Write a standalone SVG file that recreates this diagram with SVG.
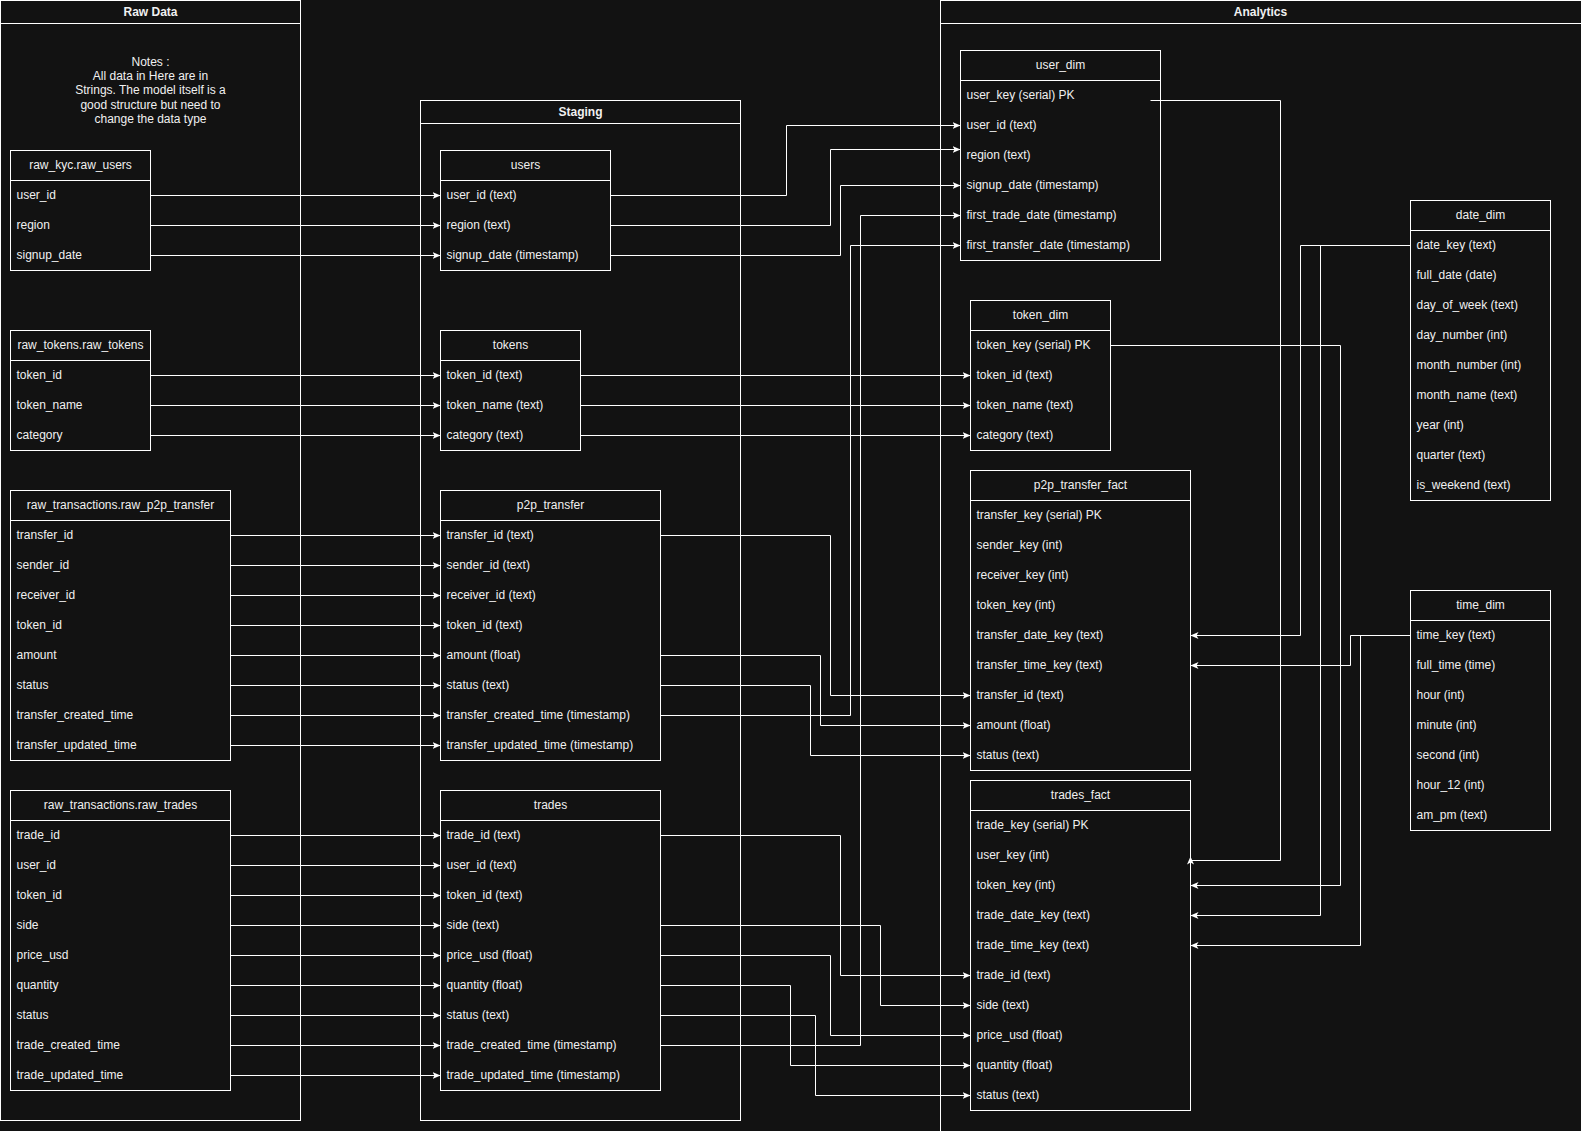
<svg xmlns="http://www.w3.org/2000/svg" width="1581" height="1131" viewBox="0 0 1581 1131">
<style>
.bg{fill:#121212}
.box{fill:#121212;stroke:#ffffff;stroke-width:1}
.cont{fill:none;stroke:#ffffff;stroke-width:1}
.sep{stroke:#ffffff;stroke-width:1}
text{font-family:"Liberation Sans",Arial,Helvetica,sans-serif;font-size:12px;fill:#f0f0f0}
.c{text-anchor:middle}
.b{font-weight:bold}
.e{fill:none;stroke:#ffffff;stroke-width:1;marker-end:url(#arr)}
</style>
<defs>
<marker id="arr" viewBox="0 0 8 7" refX="8" refY="3.5" markerWidth="8" markerHeight="7" markerUnits="userSpaceOnUse" orient="auto">
<path d="M0,0 L8,3.5 L0,7 L2,3.5 Z" fill="#ffffff"/>
</marker>
</defs>
<rect class="bg" x="0" y="0" width="1581" height="1131"/>
<g transform="translate(0.5,0.5)">

<g id="container-raw">
<rect class="cont" x="0" y="0" width="300" height="1120"/>
<line class="sep" x1="0" y1="23" x2="300" y2="23"/>
<text class="c b" x="150" y="15">Raw Data</text>
</g>
<g id="container-staging">
<rect class="cont" x="420" y="100" width="320" height="1020"/>
<line class="sep" x1="420" y1="123" x2="740" y2="123"/>
<text class="c b" x="580" y="115">Staging</text>
</g>
<g id="container-analytics">
<rect class="cont" x="940" y="0" width="645" height="1140"/>
<line class="sep" x1="940" y1="23" x2="1585" y2="23"/>
<text class="c b" x="1260" y="15">Analytics</text>
</g>

<g id="notes">
<text class="c" x="150" y="65">Notes :</text>
<text class="c" x="150" y="79">All data in Here are in</text>
<text class="c" x="150" y="93.5">Strings. The model itself is a</text>
<text class="c" x="150" y="108">good structure but need to</text>
<text class="c" x="150" y="122">change the data type</text>
</g>

<g id="raw_users">
<rect class="box" x="10" y="150" width="140" height="120"/>
<line class="sep" x1="10" y1="180" x2="150" y2="180"/>
<text class="c" x="80" y="168">raw_kyc.raw_users</text>
<text x="16" y="198">user_id</text>
<text x="16" y="228">region</text>
<text x="16" y="258">signup_date</text>
</g>

<g id="raw_tokens">
<rect class="box" x="10" y="330" width="140" height="120"/>
<line class="sep" x1="10" y1="360" x2="150" y2="360"/>
<text class="c" x="80" y="348">raw_tokens.raw_tokens</text>
<text x="16" y="378">token_id</text>
<text x="16" y="408">token_name</text>
<text x="16" y="438">category</text>
</g>

<g id="raw_p2p_transfer">
<rect class="box" x="10" y="490" width="220" height="270"/>
<line class="sep" x1="10" y1="520" x2="230" y2="520"/>
<text class="c" x="120" y="508">raw_transactions.raw_p2p_transfer</text>
<text x="16" y="538">transfer_id</text>
<text x="16" y="568">sender_id</text>
<text x="16" y="598">receiver_id</text>
<text x="16" y="628">token_id</text>
<text x="16" y="658">amount</text>
<text x="16" y="688">status</text>
<text x="16" y="718">transfer_created_time</text>
<text x="16" y="748">transfer_updated_time</text>
</g>

<g id="raw_trades">
<rect class="box" x="10" y="790" width="220" height="300"/>
<line class="sep" x1="10" y1="820" x2="230" y2="820"/>
<text class="c" x="120" y="808">raw_transactions.raw_trades</text>
<text x="16" y="838">trade_id</text>
<text x="16" y="868">user_id</text>
<text x="16" y="898">token_id</text>
<text x="16" y="928">side</text>
<text x="16" y="958">price_usd</text>
<text x="16" y="988">quantity</text>
<text x="16" y="1018">status</text>
<text x="16" y="1048">trade_created_time</text>
<text x="16" y="1078">trade_updated_time</text>
</g>

<g id="stg_users">
<rect class="box" x="440" y="150" width="170" height="120"/>
<line class="sep" x1="440" y1="180" x2="610" y2="180"/>
<text class="c" x="525" y="168">users</text>
<text x="446" y="198">user_id (text)</text>
<text x="446" y="228">region (text)</text>
<text x="446" y="258">signup_date (timestamp)</text>
</g>

<g id="stg_tokens">
<rect class="box" x="440" y="330" width="140" height="120"/>
<line class="sep" x1="440" y1="360" x2="580" y2="360"/>
<text class="c" x="510" y="348">tokens</text>
<text x="446" y="378">token_id (text)</text>
<text x="446" y="408">token_name (text)</text>
<text x="446" y="438">category (text)</text>
</g>

<g id="stg_p2p_transfer">
<rect class="box" x="440" y="490" width="220" height="270"/>
<line class="sep" x1="440" y1="520" x2="660" y2="520"/>
<text class="c" x="550" y="508">p2p_transfer</text>
<text x="446" y="538">transfer_id (text)</text>
<text x="446" y="568">sender_id (text)</text>
<text x="446" y="598">receiver_id (text)</text>
<text x="446" y="628">token_id (text)</text>
<text x="446" y="658">amount (float)</text>
<text x="446" y="688">status (text)</text>
<text x="446" y="718">transfer_created_time (timestamp)</text>
<text x="446" y="748">transfer_updated_time (timestamp)</text>
</g>

<g id="stg_trades">
<rect class="box" x="440" y="790" width="220" height="300"/>
<line class="sep" x1="440" y1="820" x2="660" y2="820"/>
<text class="c" x="550" y="808">trades</text>
<text x="446" y="838">trade_id (text)</text>
<text x="446" y="868">user_id (text)</text>
<text x="446" y="898">token_id (text)</text>
<text x="446" y="928">side (text)</text>
<text x="446" y="958">price_usd (float)</text>
<text x="446" y="988">quantity (float)</text>
<text x="446" y="1018">status (text)</text>
<text x="446" y="1048">trade_created_time (timestamp)</text>
<text x="446" y="1078">trade_updated_time (timestamp)</text>
</g>

<g id="user_dim">
<rect class="box" x="960" y="50" width="200" height="210"/>
<line class="sep" x1="960" y1="80" x2="1160" y2="80"/>
<text class="c" x="1060" y="68">user_dim</text>
<text x="966" y="98">user_key (serial) PK</text>
<text x="966" y="128">user_id (text)</text>
<text x="966" y="158">region (text)</text>
<text x="966" y="188">signup_date (timestamp)</text>
<text x="966" y="218">first_trade_date (timestamp)</text>
<text x="966" y="248">first_transfer_date (timestamp)</text>
</g>

<g id="token_dim">
<rect class="box" x="970" y="300" width="140" height="150"/>
<line class="sep" x1="970" y1="330" x2="1110" y2="330"/>
<text class="c" x="1040" y="318">token_dim</text>
<text x="976" y="348">token_key (serial) PK</text>
<text x="976" y="378">token_id (text)</text>
<text x="976" y="408">token_name (text)</text>
<text x="976" y="438">category (text)</text>
</g>

<g id="p2p_transfer_fact">
<rect class="box" x="970" y="470" width="220" height="300"/>
<line class="sep" x1="970" y1="500" x2="1190" y2="500"/>
<text class="c" x="1080" y="488">p2p_transfer_fact</text>
<text x="976" y="518">transfer_key (serial) PK</text>
<text x="976" y="548">sender_key (int)</text>
<text x="976" y="578">receiver_key (int)</text>
<text x="976" y="608">token_key (int)</text>
<text x="976" y="638">transfer_date_key (text)</text>
<text x="976" y="668">transfer_time_key (text)</text>
<text x="976" y="698">transfer_id (text)</text>
<text x="976" y="728">amount (float)</text>
<text x="976" y="758">status (text)</text>
</g>

<g id="trades_fact">
<rect class="box" x="970" y="780" width="220" height="330"/>
<line class="sep" x1="970" y1="810" x2="1190" y2="810"/>
<text class="c" x="1080" y="798">trades_fact</text>
<text x="976" y="828">trade_key (serial) PK</text>
<text x="976" y="858">user_key (int)</text>
<text x="976" y="888">token_key (int)</text>
<text x="976" y="918">trade_date_key (text)</text>
<text x="976" y="948">trade_time_key (text)</text>
<text x="976" y="978">trade_id (text)</text>
<text x="976" y="1008">side (text)</text>
<text x="976" y="1038">price_usd (float)</text>
<text x="976" y="1068">quantity (float)</text>
<text x="976" y="1098">status (text)</text>
</g>

<g id="date_dim">
<rect class="box" x="1410" y="200" width="140" height="300"/>
<line class="sep" x1="1410" y1="230" x2="1550" y2="230"/>
<text class="c" x="1480" y="218">date_dim</text>
<text x="1416" y="248">date_key (text)</text>
<text x="1416" y="278">full_date (date)</text>
<text x="1416" y="308">day_of_week (text)</text>
<text x="1416" y="338">day_number (int)</text>
<text x="1416" y="368">month_number (int)</text>
<text x="1416" y="398">month_name (text)</text>
<text x="1416" y="428">year (int)</text>
<text x="1416" y="458">quarter (text)</text>
<text x="1416" y="488">is_weekend (text)</text>
</g>

<g id="time_dim">
<rect class="box" x="1410" y="590" width="140" height="240"/>
<line class="sep" x1="1410" y1="620" x2="1550" y2="620"/>
<text class="c" x="1480" y="608">time_dim</text>
<text x="1416" y="638">time_key (text)</text>
<text x="1416" y="668">full_time (time)</text>
<text x="1416" y="698">hour (int)</text>
<text x="1416" y="728">minute (int)</text>
<text x="1416" y="758">second (int)</text>
<text x="1416" y="788">hour_12 (int)</text>
<text x="1416" y="818">am_pm (text)</text>
</g>

<g id="connectors">
<path class="e" d="M150,195 H440"/>
<path class="e" d="M150,225 H440"/>
<path class="e" d="M150,255 H440"/>
<path class="e" d="M150,375 H440"/>
<path class="e" d="M150,405 H440"/>
<path class="e" d="M150,435 H440"/>
<path class="e" d="M230,535 H440"/>
<path class="e" d="M230,565 H440"/>
<path class="e" d="M230,595 H440"/>
<path class="e" d="M230,625 H440"/>
<path class="e" d="M230,655 H440"/>
<path class="e" d="M230,685 H440"/>
<path class="e" d="M230,715 H440"/>
<path class="e" d="M230,745 H440"/>
<path class="e" d="M230,835 H440"/>
<path class="e" d="M230,865 H440"/>
<path class="e" d="M230,895 H440"/>
<path class="e" d="M230,925 H440"/>
<path class="e" d="M230,955 H440"/>
<path class="e" d="M230,985 H440"/>
<path class="e" d="M230,1015 H440"/>
<path class="e" d="M230,1045 H440"/>
<path class="e" d="M230,1075 H440"/>

<path class="e" d="M610,195 H786 V125 H960"/>
<path class="e" d="M610,225 H830 V149 H960"/>
<path class="e" d="M610,255 H840 V185 H960"/>
<path class="e" d="M660,1045 H860 V215 H960"/>
<path class="e" d="M660,715 H850 V245 H960"/>

<path class="e" d="M580,375 H970"/>
<path class="e" d="M580,405 H970"/>
<path class="e" d="M580,435 H970"/>

<path class="e" d="M660,535 H830 V695 H970"/>
<path class="e" d="M660,655 H820 V725 H970"/>
<path class="e" d="M660,685 H810 V755 H970"/>

<path class="e" d="M660,835 H840 V975 H970"/>
<path class="e" d="M660,925 H880 V1005 H970"/>
<path class="e" d="M660,955 H830 V1035 H970"/>
<path class="e" d="M660,985 H790 V1065 H970"/>
<path class="e" d="M660,1015 H815 V1095 H970"/>

<path class="e" d="M1150,100 H1280 V860 H1190 V856"/>
<path class="e" d="M1110,345 H1340 V885 H1190"/>
<path class="e" d="M1410,245 H1300 V635 H1190"/>
<path class="e" d="M1410,245 H1320 V915 H1190"/>
<path class="e" d="M1410,635 H1350 V665 H1190"/>
<path class="e" d="M1410,635 H1360 V945 H1190"/>
</g>
</g>
</svg>
